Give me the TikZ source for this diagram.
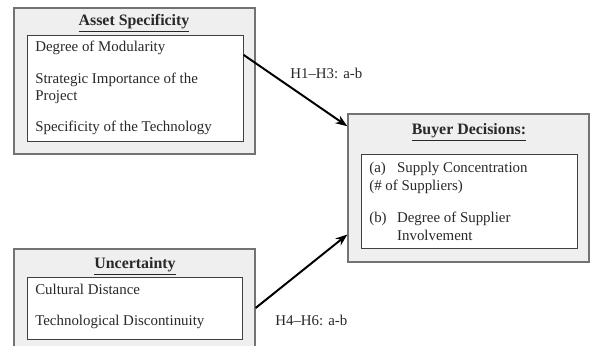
\documentclass[tikz,border=0pt]{standalone}
\usepackage{fontspec}
\setmainfont{Liberation Serif}
\usetikzlibrary{arrows.meta,positioning}
\definecolor{panelc}{RGB}{239,239,239}
\definecolor{inkc}{RGB}{40,40,40}
\tikzset{
  panel/.style={rectangle,draw=black!55,fill=panelc,line width=0.9pt,inner sep=0pt},
  inbox/.style={rectangle,draw=black!75,fill=white,line width=0.7pt,inner sep=0pt},
  head/.style={font=\fontsize{11.3}{12}\selectfont\bfseries,text=inkc,inner sep=0pt},
  items/.style={align=left,font=\fontsize{10.6}{12.2}\selectfont,text=inkc,inner sep=0pt,anchor=north west},
  hyp/.style={font=\fontsize{10.6}{12}\selectfont,text=inkc,inner sep=0pt,anchor=west},
  link/.style={-{Stealth[length=3mm,width=2.2mm]},line width=1.4pt,black},
}

\begin{document}
\begin{tikzpicture}[x=0.025cm,y=-0.025cm]
  \useasboundingbox (0,0) rectangle (590,346);
  \clip (0,0) rectangle (590,346);
  % asset specificity
  \node[panel,minimum width=241*0.025cm,minimum height=146*0.025cm] (a_out) at (134.5,81){};
  \node[inbox,minimum width=216*0.025cm,minimum height=106*0.025cm] (a_in) at (135,88){};
  \node[head] (a_hd) at (134,23){\underline{Asset Specificity}};
  \node[items] (a_it) at (35,41){Degree of Modularity\\[10.5pt]Strategic Importance of the\\Project\\[9.5pt]Specificity of the Technology};
  % uncertainty
  \node[panel,minimum width=241*0.025cm,minimum height=120*0.025cm] (u_out) at (134.5,309){};
  \node[inbox,minimum width=215*0.025cm,minimum height=62*0.025cm] (u_in) at (134.5,308){};
  \node[head] (u_hd) at (135,266){\underline{Uncertainty}};
  \node[items] (u_it) at (35,284){Cultural Distance\\[9.5pt]Technological Discontinuity};
  % buyer decisions
  \node[panel,minimum width=241*0.025cm,minimum height=148*0.025cm] (b_out) at (468.5,188){};
  \node[inbox,minimum width=216*0.025cm,minimum height=94*0.025cm] (b_in) at (469,201){};
  \node[head] (b_hd) at (469,132){\underline{Buyer Decisions:}};
  \node[items,font=\fontsize{10.6}{13}\selectfont] (b_it) at (369,162){\makebox[19.8pt][l]{(a)}Supply Concentration\\(\# of Suppliers)\\[9.5pt]\makebox[19.8pt][l]{(b)}Degree of Supplier\\\hspace*{19.8pt}Involvement};
  % hypotheses
  \draw[link] (a_in.17.5) -- (b_out.153.5);
  \draw[link] (u_out.east |- u_in.east) -- (b_out.201.3);
  \node[hyp] (h13) at (290,73){H1--H3: a-b};
  \node[hyp] (h46) at (275,320){H4--H6: a-b};
\end{tikzpicture}
\end{document}
